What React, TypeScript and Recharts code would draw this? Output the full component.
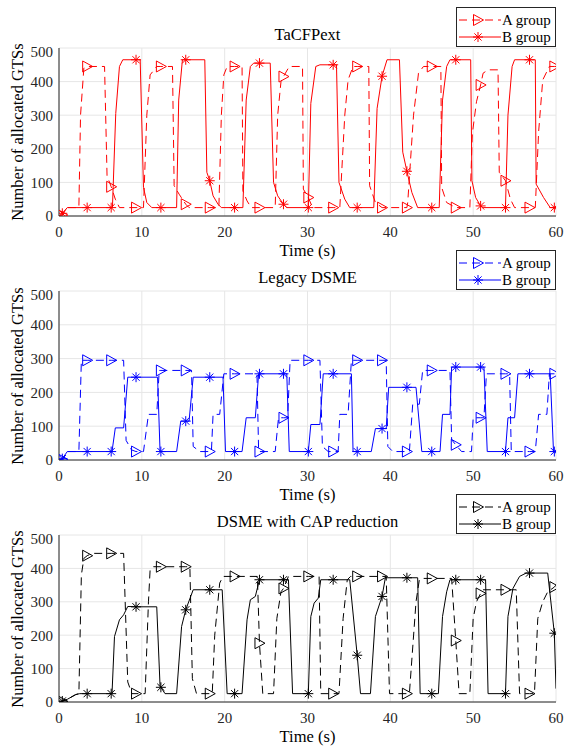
import { LineChart, Line, XAxis, YAxis, CartesianGrid } from "recharts";

// [time (s), allocated GTSs, marker?]
type Pt = [number, number, number?];

const xTicks = [0, 10, 20, 30, 40, 50, 60];
const yTicks = [0, 100, 200, 300, 400, 500];

// TaCFPext
const tacA: Pt[] = [
  [0, 0], [0.4, 3, 1], [1.0, 25], [2.4, 25], [2.6, 300], [3.0, 440], [3.4, 445, 1], [5.5, 445], [5.8, 120],
  [6.3, 87, 1], [6.8, 50], [7.3, 25], [9.3, 25, 1], [10.2, 25], [10.6, 300], [11.0, 420], [11.8, 445],
  [12.3, 445, 1], [13.7, 445], [13.9, 90], [14.5, 65], [15.3, 35, 1], [15.7, 25], [18.2, 25, 1], [19.3, 25],
  [19.6, 300], [19.9, 420], [20.3, 445], [21.2, 445, 1], [22.1, 445], [22.2, 75], [22.7, 45], [23.2, 25],
  [24.2, 25, 1], [26.1, 25], [26.4, 300], [26.8, 400], [27.1, 415, 1], [27.8, 445], [29.4, 445], [29.5, 80],
  [30.1, 55, 1], [30.6, 25], [33.1, 25, 1], [33.9, 25], [34.5, 300], [34.9, 405], [35.5, 445], [36.0, 445, 1],
  [37.4, 445], [37.5, 90], [38.2, 40], [39.0, 25, 1], [42.0, 25, 1], [42.1, 40], [42.8, 300], [43.4, 425],
  [44.0, 445], [45.0, 445, 1], [46.1, 445], [46.2, 85], [46.8, 40], [47.9, 25, 1], [49.6, 25], [49.9, 245],
  [50.4, 340], [50.9, 390, 1], [51.2, 425], [51.8, 435], [53.0, 435], [53.15, 130], [53.9, 105, 1], [54.5, 50],
  [55.0, 25], [56.8, 25, 1], [57.5, 25], [57.9, 250], [58.4, 405], [59.2, 445], [59.8, 445, 1], [60, 445],
];
const tacB: Pt[] = [
  [0, 0], [0.4, 8, 1], [1.0, 25], [3.4, 25, 1], [6.3, 25, 1], [6.45, 25], [6.85, 305], [7.3, 445], [7.7, 465],
  [9.3, 465, 1], [9.8, 465], [10.2, 85], [10.6, 40], [11.2, 25], [12.3, 25, 1], [14.2, 25], [14.45, 345],
  [14.9, 465], [15.3, 465, 1], [17.6, 465], [17.85, 130], [18.2, 105, 1], [18.6, 60], [19.2, 35], [19.6, 25],
  [21.2, 25, 1], [22.2, 25], [22.6, 345], [23.1, 445], [23.5, 455], [24.2, 455, 1], [25.5, 455], [25.9, 100],
  [26.4, 60], [27.1, 35, 1], [27.5, 25], [30.1, 25, 1], [30.4, 335], [31.0, 445], [31.5, 450], [33.1, 450, 1],
  [33.5, 450], [33.8, 100], [34.5, 50], [35.1, 25], [36.0, 25, 1], [38.0, 25], [38.4, 320], [39.0, 416, 1],
  [39.6, 465], [41.1, 465], [41.5, 190], [42.0, 133, 1], [42.6, 70], [43.3, 25], [45.0, 25, 1], [45.9, 25],
  [46.3, 345], [46.8, 445], [47.2, 465], [47.9, 465, 1], [49.7, 465], [49.85, 105], [50.3, 55], [50.9, 30, 1],
  [51.2, 25], [53.9, 25, 1], [54.2, 300], [54.7, 445], [55.0, 465], [56.8, 465, 1], [57.5, 465], [57.6, 95],
  [58.5, 55], [59.3, 25], [59.8, 25, 1], [60, 25],
];

// Legacy DSME
const legA: Pt[] = [
  [0, 0], [0.4, 2, 1], [1.0, 25], [2.4, 25], [2.7, 295], [3.4, 295, 1], [6.3, 295, 1], [7.8, 295], [8.1, 58],
  [8.75, 30], [9.3, 25, 1], [10.2, 25], [10.8, 135], [11.8, 135], [12.1, 265], [12.3, 265, 1], [15.3, 265, 1],
  [16.0, 265], [16.2, 40], [17.0, 25], [18.2, 25, 1], [18.4, 25], [18.6, 135], [19.4, 135], [19.9, 255],
  [21.2, 255, 1], [23.9, 255], [24.1, 25], [24.2, 25, 1], [26.1, 25], [26.5, 125], [27.1, 125, 1], [27.6, 125],
  [27.9, 295], [30.1, 295, 1], [31.5, 295], [31.8, 40], [32.5, 25], [33.1, 25, 1], [33.7, 25], [33.9, 135],
  [34.9, 135], [35.3, 295], [36.0, 295, 1], [39.0, 295, 1], [39.5, 295], [39.7, 40], [40.3, 25], [42.0, 25, 1],
  [42.3, 25], [42.7, 165], [43.5, 165], [43.9, 265], [45.0, 265, 1], [47.2, 265], [47.4, 60], [47.9, 45, 1],
  [48.6, 25], [49.8, 25], [50.0, 125], [50.9, 125, 1], [51.3, 125], [51.6, 255], [53.9, 255, 1], [54.4, 255],
  [54.6, 25], [56.8, 25, 1], [57.5, 25], [57.9, 135], [58.9, 135], [59.2, 255], [59.8, 255, 1], [60, 255],
];
const legB: Pt[] = [
  [0, 0], [0.4, 4, 1], [1.0, 25], [3.4, 25, 1], [6.3, 25, 1], [6.4, 25], [6.8, 95], [7.8, 95], [8.3, 245],
  [9.3, 245, 1], [11.9, 245], [12.2, 25], [12.3, 25, 1], [14.2, 25], [14.7, 115], [15.3, 115, 1], [15.7, 115],
  [16.2, 245], [18.2, 245, 1], [19.8, 245], [20.1, 25], [21.2, 25, 1], [22.1, 25], [22.6, 125], [23.7, 125],
  [24.1, 255], [24.2, 255, 1], [27.1, 255, 1], [27.5, 255], [27.8, 25], [30.1, 25, 1], [30.4, 105], [31.5, 105],
  [31.9, 255], [33.1, 255, 1], [35.3, 255], [35.5, 25], [36.0, 25, 1], [37.7, 25], [38.2, 93], [39.0, 93, 1],
  [39.5, 93], [39.8, 215], [42.0, 215, 1], [43.1, 215], [43.8, 25], [45.0, 25, 1], [46.0, 25], [46.3, 135],
  [47.2, 135], [47.4, 275], [47.9, 275, 1], [50.9, 275, 1], [51.3, 275], [51.7, 25], [53.9, 25, 1], [54.2, 125],
  [55.0, 125], [55.4, 255], [56.8, 255, 1], [59.3, 255], [59.7, 25], [59.8, 25, 1], [60, 25],
];

// DSME with CAP reduction
const capA: Pt[] = [
  [0, 0], [0.4, 2, 1], [1.0, 8], [2.0, 22], [2.4, 25], [2.7, 380], [3.0, 430], [3.4, 438, 1], [4.0, 445],
  [6.3, 445, 1], [7.8, 445], [8.3, 60], [8.8, 25], [9.3, 25, 1], [10.4, 25], [10.8, 300], [11.0, 396],
  [11.4, 405], [12.3, 405, 1], [15.3, 405, 1], [15.8, 405], [16.1, 70], [16.6, 25], [18.2, 25, 1], [18.5, 25],
  [18.8, 200], [19.4, 356], [19.8, 376], [21.2, 376, 1], [23.95, 376], [24.2, 176, 1], [24.6, 25], [25.9, 25],
  [26.3, 250], [26.8, 330], [27.1, 340, 1], [27.7, 376], [30.1, 376, 1], [31.4, 376], [31.6, 25], [33.1, 25, 1],
  [33.8, 25], [34.3, 250], [34.8, 366], [35.2, 376], [36.0, 376, 1], [39.0, 376, 1], [39.5, 376], [39.9, 25],
  [42.0, 25, 1], [42.3, 25], [43.1, 300], [43.5, 366], [43.9, 370], [45.0, 370, 1], [47.4, 370], [47.9, 184, 1],
  [48.3, 25], [49.6, 25], [50.0, 250], [50.4, 300], [50.9, 325, 1], [51.2, 336], [53.9, 336, 1], [55.2, 336],
  [55.6, 25], [56.8, 25, 1], [57.4, 25], [57.8, 250], [58.4, 300], [59.0, 330], [59.8, 344, 1], [60, 350],
];
const capB: Pt[] = [
  [0, 0], [0.4, 3, 1], [1.0, 8], [2.0, 22], [2.5, 25], [3.4, 25, 1], [6.3, 25, 1], [6.4, 25], [6.7, 196],
  [7.3, 246], [7.8, 261], [8.3, 286], [9.3, 285, 1], [11.8, 285], [12.2, 48], [12.3, 44, 1], [12.8, 25],
  [14.2, 25], [14.8, 226], [15.3, 276, 1], [16.2, 336], [18.2, 336, 1], [19.7, 336], [20.3, 25], [21.2, 25, 1],
  [22.1, 25], [22.7, 246], [23.1, 306], [23.7, 316], [24.2, 366, 1], [27.1, 366, 1], [27.7, 366], [28.2, 25],
  [30.1, 25, 1], [30.4, 256], [30.8, 296], [31.3, 311], [31.6, 366], [33.1, 366, 1], [35.1, 366], [36.0, 140, 1],
  [36.4, 25], [37.6, 25], [38.2, 256], [39.0, 316, 1], [39.4, 372], [42.0, 372, 1], [43.3, 372], [43.6, 25],
  [45.0, 25, 1], [45.8, 25], [46.3, 256], [46.8, 330], [47.2, 366], [47.9, 366, 1], [50.9, 366, 1], [51.5, 366],
  [51.8, 25], [53.9, 25, 1], [54.2, 256], [54.8, 340], [55.6, 376], [56.4, 386], [56.8, 386, 1], [59.0, 386],
  [59.8, 206, 1], [60, 40],
];

const panels = [
  { title: "TaCFPext", color: "#ff0000", a: tacA, b: tacB },
  { title: "Legacy DSME", color: "#0000ff", a: legA, b: legB },
  { title: "DSME with CAP reduction", color: "#000000", a: capA, b: capB },
];

const PLOT_TOP = [48, 291, 535];
const PLOT_H = [168, 169, 167];
const LEFT = 59;
const RIGHT = 556;
const AXIS = "#262626";
const DASH = "8 5";
const FONT = "'Liberation Serif', 'Times New Roman', serif";

const rows = (s: Pt[]) => s.map(([t, v, m]) => ({ t, v, m: !!m }));

function Marker({ kind, cx, cy, color }: { kind: "tri" | "star"; cx: number; cy: number; color: string }) {
  if (kind === "tri") {
    return (
      <polygon
        points={`${cx - 4.5},${cy - 5.5} ${cx + 5.5},${cy} ${cx - 4.5},${cy + 5.5}`}
        fill="none"
        stroke={color}
        strokeWidth={1}
      />
    );
  }
  const r = 5;
  const d = r * 0.72;
  return (
    <g stroke={color} strokeWidth={1}>
      <line x1={cx - r} y1={cy} x2={cx + r} y2={cy} />
      <line x1={cx} y1={cy - r} x2={cx} y2={cy + r} />
      <line x1={cx - d} y1={cy - d} x2={cx + d} y2={cy + d} />
      <line x1={cx - d} y1={cy + d} x2={cx + d} y2={cy - d} />
    </g>
  );
}

const makeDot = (kind: "tri" | "star", color: string) => (p: any) => {
  const { cx, cy, payload, index } = p;
  if (!payload || !payload.m || cx == null || cy == null) return <g key={`n${index}`} />;
  return (
    <g key={`d${index}`}>
      <Marker kind={kind} cx={cx} cy={cy} color={color} />
    </g>
  );
};

function LegendBox({ top, color }: { top: number; color: string }) {
  const txt = { fontFamily: FONT, fontSize: 15 };
  return (
    <div
      style={{
        position: "absolute", left: 456, top, width: 100, height: 40,
        border: `1px solid ${AXIS}`, background: "#fff", boxSizing: "border-box",
      }}
    >
      <svg width={98} height={38} style={{ position: "absolute", left: 0, top: 0 }}>
        <line x1={2} x2={44} y1={12} y2={12} stroke={color} strokeDasharray={DASH} />
        <Marker kind="tri" cx={21} cy={12} color={color} />
        <text x={45} y={12} dominantBaseline="central" fill="#000" style={txt}>A group</text>
        <line x1={2} x2={44} y1={29} y2={29} stroke={color} />
        <Marker kind="star" cx={21} cy={29} color={color} />
        <text x={45} y={29} dominantBaseline="central" fill="#000" style={txt}>B group</text>
      </svg>
    </div>
  );
}

function Panel({ idx }: { idx: number }) {
  const p = panels[idx];
  const top = PLOT_TOP[idx];
  const h = PLOT_H[idx];
  const M = 5;
  const XH = 30;
  const tick = { fontSize: 15, fill: AXIS };
  const blank = () => "";
  return (
    <>
      <div style={{ position: "absolute", left: 0, top: top - M }}>
        <LineChart width={564} height={M + h + XH} margin={{ top: M, right: 564 - RIGHT, bottom: 0, left: 0 }}>
          <CartesianGrid stroke="#e6e6e6" />
          <XAxis
            dataKey="t" type="number" domain={[0, 60]} ticks={xTicks} height={XH}
            tick={tick} tickLine={false} tickSize={6} tickMargin={4}
            axisLine={{ stroke: AXIS }} allowDataOverflow
          />
          <XAxis
            xAxisId="bt" orientation="bottom" mirror type="number" domain={[0, 60]} ticks={xTicks}
            tickFormatter={blank} tickSize={5} tickLine={{ stroke: AXIS }} axisLine={false} height={0}
          />
          <XAxis
            xAxisId="top" orientation="top" mirror type="number" domain={[0, 60]} ticks={xTicks}
            tickFormatter={blank} tickSize={5} tickLine={{ stroke: AXIS }} axisLine={{ stroke: AXIS }} height={0}
          />
          <YAxis
            type="number" domain={[0, 500]} ticks={yTicks} width={LEFT}
            tick={tick} tickLine={false} tickSize={6} tickMargin={0}
            axisLine={{ stroke: AXIS }} allowDataOverflow
          />
          <YAxis
            yAxisId="lt" orientation="left" mirror type="number" domain={[0, 500]} ticks={yTicks}
            tickFormatter={blank} tickSize={5} tickLine={{ stroke: AXIS }} axisLine={false} width={0}
          />
          <YAxis
            yAxisId="rt" orientation="right" mirror type="number" domain={[0, 500]} ticks={yTicks}
            tickFormatter={blank} tickSize={5} tickLine={{ stroke: AXIS }} axisLine={{ stroke: AXIS }} width={0}
          />
          <Line
            data={rows(p.a)} dataKey="v" type="linear" stroke={p.color} strokeWidth={1}
            strokeDasharray={DASH} dot={makeDot("tri", p.color)} activeDot={false} isAnimationActive={false}
          />
          <Line
            data={rows(p.b)} dataKey="v" type="linear" stroke={p.color} strokeWidth={1}
            dot={makeDot("star", p.color)} activeDot={false} isAnimationActive={false}
          />
        </LineChart>
      </div>
      <div
        style={{
          position: "absolute", left: LEFT, width: RIGHT - LEFT, top: top - 22, lineHeight: "18px",
          textAlign: "center", fontSize: 16.5, color: "#000",
        }}
      >
        {p.title}
      </div>
      <div
        style={{
          position: "absolute", left: LEFT, width: RIGHT - LEFT, top: top + h + 26, lineHeight: "18px",
          textAlign: "center", fontSize: 16.5, color: "#000",
        }}
      >
        Time (s)
      </div>
      <div
        style={{
          position: "absolute", left: 18, top: top + h / 2, whiteSpace: "nowrap", fontSize: 16.5,
          lineHeight: "18px", color: "#000", transform: "translate(-50%, -50%) rotate(-90deg)",
        }}
      >
        Number of allocated GTSs
      </div>
      <LegendBox top={top - 41} color={p.color} />
    </>
  );
}

export default function App() {
  return (
    <div
      style={{
        position: "absolute", left: 0, top: 0, width: 564, height: 747,
        background: "#fff", fontFamily: FONT, overflow: "hidden",
      }}
    >
      <style>{`svg text { font-family: ${FONT}; }`}</style>
      <Panel idx={0} />
      <Panel idx={1} />
      <Panel idx={2} />
    </div>
  );
}
